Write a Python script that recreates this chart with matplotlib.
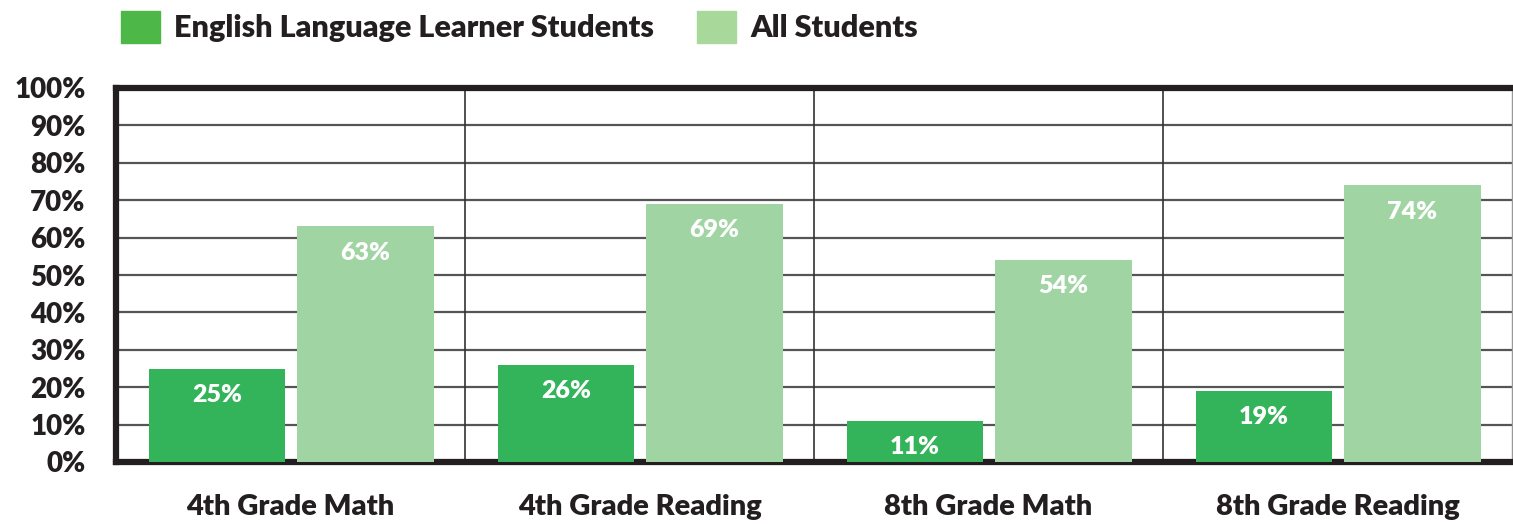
import matplotlib.pyplot as plt
import numpy as np

categories = ['4th Grade Math', '4th Grade Reading', '8th Grade Math', '8th Grade Reading']
ell = [25, 26, 11, 19]
all_students = [63, 69, 54, 74]
yticks = list(range(0, 101, 10))

plt.rcParams['font.family'] = ['Lato', 'DejaVu Sans']
plt.rcParams['font.weight'] = 'heavy'

dark = '#33b35a'
light = '#a1d4a3'
ink = '#231f20'

fig = plt.figure(figsize=(15.13, 5.24), dpi=100)
ax = fig.add_axes([116/1513, 1-462/524, (1512-116)/1513, (462-88)/524])

x = np.arange(len(categories)) + 0.5
w = 0.39
b1 = ax.bar(x - 0.21, ell, w, color=dark, label='English Language Learner Students', zorder=3)
b2 = ax.bar(x + 0.215, all_students, w, color=light, label='All Students', zorder=3)

for bars in (b1, b2):
    for r in bars:
        ax.annotate(f'{int(r.get_height())}%', (r.get_x() + r.get_width()/2, r.get_height()),
                    xytext=(0, -19), textcoords='offset points', ha='center', va='center',
                    color='white', fontsize=18, fontweight='heavy', zorder=4)

ax.set_xlim(0, 4)
ax.set_ylim(0, 100)
ax.set_yticks(yticks)
ax.set_yticklabels([f'{t}%' for t in yticks], fontsize=20, color=ink)
ax.set_xticks(x)
ax.set_xticklabels(categories, fontsize=21, color=ink)
ax.tick_params(length=0)
ax.tick_params(axis='y', pad=22)
ax.tick_params(axis='x', pad=23)

for t in yticks[1:-1]:
    ax.axhline(t, color='#555555', lw=1.6, zorder=1)
for g in [1, 2, 3]:
    ax.axvline(g, color='#333333', lw=1.2, zorder=1)

for s in ['left', 'top', 'bottom']:
    ax.spines[s].set_linewidth(4.5)
    ax.spines[s].set_color(ink)
ax.spines['right'].set_linewidth(1)
ax.spines['right'].set_color('#999999')

leg = fig.legend(handles=[b1, b2], loc='center left', bbox_to_anchor=(93/1513, 1-27/524),
                 ncol=2, frameon=False, fontsize=22, handlelength=1.3, handleheight=1.2,
                 handletextpad=0.45, columnspacing=1.4)
for t in leg.get_texts():
    t.set_color(ink)
leg.legend_handles[0].set_color('#4db848')
leg.legend_handles[1].set_color('#a8d89a')

plt.savefig('out.png', dpi=100)
